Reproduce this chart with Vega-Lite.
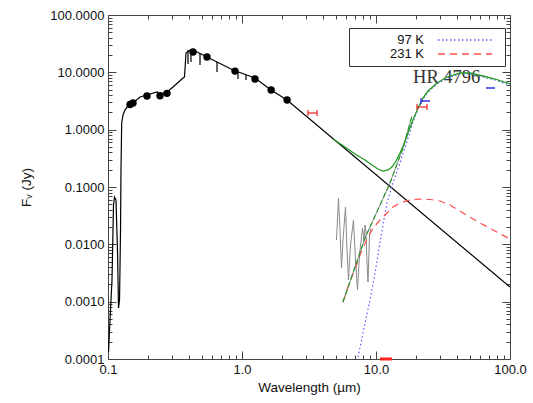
{
  "$schema": "https://vega.github.io/schema/vega-lite/v6.json",
  "width": 402,
  "height": 344,
  "autosize": {"type": "none"},
  "padding": {"left": 108, "top": 15, "right": 23, "bottom": 44},
  "background": "white",
  "config": {
    "font": "Liberation Sans",
    "view": {"stroke": "#444", "strokeWidth": 1},
    "axis": {"grid": false, "domain": false, "tickColor": "#444", "labelColor": "#111", "titleColor": "#111", "titleFontWeight": "normal", "labelFlush": false}
  },
  "datasets": {
    "phot": [
      {"lam": 0.1009, "F": 0.000132}, {"lam": 0.1035, "F": 0.000479}, {"lam": 0.1071, "F": 0.00239},
      {"lam": 0.1099, "F": 0.0485}, {"lam": 0.1118, "F": 0.0669}, {"lam": 0.1147, "F": 0.0593},
      {"lam": 0.1177, "F": 0.00796}, {"lam": 0.1198, "F": 0.000775}, {"lam": 0.1219, "F": 0.00107},
      {"lam": 0.1240, "F": 0.0178}, {"lam": 0.1250, "F": 0.198}, {"lam": 0.1265, "F": 1.306},
      {"lam": 0.1294, "F": 1.80}, {"lam": 0.1339, "F": 2.20}, {"lam": 0.1459, "F": 2.92},
      {"lam": 0.1537, "F": 2.92}, {"lam": 0.1733, "F": 3.71}, {"lam": 0.1954, "F": 4.02},
      {"lam": 0.2321, "F": 4.54}, {"lam": 0.2444, "F": 4.19}, {"lam": 0.2756, "F": 4.54},
      {"lam": 0.3055, "F": 5.55}, {"lam": 0.3629, "F": 7.96}, {"lam": 0.3723, "F": 8.29},
      {"lam": 0.3820, "F": 21.7}, {"lam": 0.4092, "F": 24.5}, {"lam": 0.4461, "F": 23.5},
      {"lam": 0.5481, "F": 18.5}, {"lam": 0.8567, "F": 10.98}, {"lam": 1.250, "F": 7.96},
      {"lam": 1.646, "F": 4.92}, {"lam": 2.167, "F": 3.29}, {"lam": 100, "F": 0.0018}
    ],
    "dips": [
      {"lam": 0.3954, "F": 24.5, "F2": 13.96}, {"lam": 0.4163, "F": 24.3, "F2": 15.1},
      {"lam": 0.4860, "F": 21.7, "F2": 13.4}, {"lam": 0.6508, "F": 15.1, "F2": 10.1},
      {"lam": 0.9335, "F": 10.1, "F2": 7.66}, {"lam": 1.071, "F": 8.99, "F2": 7.35}
    ],
    "dots": [
      {"lam": 0.146, "F": 2.75}, {"lam": 0.1537, "F": 2.92}, {"lam": 0.1954, "F": 3.87},
      {"lam": 0.2444, "F": 3.9}, {"lam": 0.2756, "F": 4.3}, {"lam": 0.4309, "F": 22.6},
      {"lam": 0.548, "F": 18.5}, {"lam": 0.887, "F": 10.5}, {"lam": 1.25, "F": 7.66},
      {"lam": 1.65, "F": 4.92}, {"lam": 2.17, "F": 3.29}
    ],
    "irs": [
      {"lam": 5.072, "F": 0.01189}, {"lam": 5.249, "F": 0.0643}, {"lam": 5.386, "F": 0.01777},
      {"lam": 5.527, "F": 0.00386}, {"lam": 5.671, "F": 0.01189}, {"lam": 5.921, "F": 0.0448},
      {"lam": 6.076, "F": 0.00796}, {"lam": 6.234, "F": 0.002385}, {"lam": 6.452, "F": 0.00973},
      {"lam": 6.793, "F": 0.02655}, {"lam": 7.031, "F": 0.00533}, {"lam": 7.277, "F": 0.0016},
      {"lam": 7.532, "F": 0.00651}, {"lam": 7.931, "F": 0.01926}, {"lam": 8.136, "F": 0.01189},
      {"lam": 8.279, "F": 0.02173}, {"lam": 8.422, "F": 0.0164}, {"lam": 8.567, "F": 0.00491},
      {"lam": 8.717, "F": 0.0022}, {"lam": 8.944, "F": 0.01454}, {"lam": 9.178, "F": 0.01926}
    ],
    "dust": [
      {"model": "97 K", "lam": 7.34, "F": 0.000108}, {"model": "97 K", "lam": 8.00, "F": 0.000284},
      {"model": "97 K", "lam": 9.02, "F": 0.001068}, {"model": "97 K", "lam": 9.83, "F": 0.00316},
      {"model": "97 K", "lam": 11.09, "F": 0.01777}, {"model": "97 K", "lam": 12.08, "F": 0.0526},
      {"model": "97 K", "lam": 13.16, "F": 0.104}, {"model": "97 K", "lam": 15.11, "F": 0.262},
      {"model": "97 K", "lam": 17.33, "F": 0.715}, {"model": "97 K", "lam": 18.89, "F": 1.36},
      {"model": "97 K", "lam": 20.58, "F": 2.29}, {"model": "97 K", "lam": 22.43, "F": 3.43},
      {"model": "97 K", "lam": 24.44, "F": 4.54}, {"model": "97 K", "lam": 28.53, "F": 6.26},
      {"model": "97 K", "lam": 33.88, "F": 7.96}, {"model": "97 K", "lam": 42.36, "F": 9.35},
      {"model": "97 K", "lam": 50.28, "F": 9.35}, {"model": "97 K", "lam": 62.88, "F": 8.29},
      {"model": "97 K", "lam": 77.29, "F": 7.35}, {"model": "97 K", "lam": 100, "F": 6.01},
      {"model": "231 K", "lam": 5.671, "F": 0.000986}, {"model": "231 K", "lam": 6.18, "F": 0.0018},
      {"model": "231 K", "lam": 6.970, "F": 0.00371}, {"model": "231 K", "lam": 7.862, "F": 0.00796},
      {"model": "231 K", "lam": 8.717, "F": 0.0134}, {"model": "231 K", "lam": 9.663, "F": 0.02005},
      {"model": "231 K", "lam": 10.71, "F": 0.02655}, {"model": "231 K", "lam": 11.87, "F": 0.0338},
      {"model": "231 K", "lam": 13.39, "F": 0.0448}, {"model": "231 K", "lam": 15.11, "F": 0.0526},
      {"model": "231 K", "lam": 17.94, "F": 0.0593}, {"model": "231 K", "lam": 21.30, "F": 0.0617},
      {"model": "231 K", "lam": 25.29, "F": 0.0605}, {"model": "231 K", "lam": 30.03, "F": 0.057},
      {"model": "231 K", "lam": 35.66, "F": 0.0485}, {"model": "231 K", "lam": 44.61, "F": 0.0352},
      {"model": "231 K", "lam": 59.72, "F": 0.0235}, {"model": "231 K", "lam": 74.67, "F": 0.0178},
      {"model": "231 K", "lam": 100, "F": 0.01238}
    ],
    "pl": [
      {"lam": 5.671, "F": 0.000986}, {"lam": 8.279, "F": 0.01289}, {"lam": 12.72, "F": 0.1174},
      {"lam": 15.90, "F": 0.479}, {"lam": 18.56, "F": 1.73}
    ],
    "total": [
      {"lam": 4.776, "F": 0.687}, {"lam": 5.870, "F": 0.498}, {"lam": 6.970, "F": 0.376},
      {"lam": 8.279, "F": 0.2956}, {"lam": 9.335, "F": 0.2418}, {"lam": 10.35, "F": 0.206},
      {"lam": 11.28, "F": 0.19}, {"lam": 12.29, "F": 0.198}, {"lam": 13.16, "F": 0.2233},
      {"lam": 14.10, "F": 0.284}, {"lam": 15.11, "F": 0.3916}, {"lam": 16.18, "F": 0.562},
      {"lam": 17.33, "F": 0.874}, {"lam": 18.89, "F": 1.474}, {"lam": 20.58, "F": 2.387},
      {"lam": 22.43, "F": 3.566}, {"lam": 24.44, "F": 4.725}, {"lam": 28.53, "F": 6.513},
      {"lam": 33.88, "F": 8.29}, {"lam": 42.36, "F": 9.73}, {"lam": 50.28, "F": 9.73},
      {"lam": 62.88, "F": 8.63}, {"lam": 77.29, "F": 7.65}, {"lam": 100, "F": 6.26}
    ],
    "bars": [
      {"set": "A", "lam": 3.109, "lam2": 3.628, "F": 1.953, "Flo": 1.73, "Fhi": 2.20},
      {"set": "A", "lam": 20.23, "lam2": 24.03, "F": 2.48, "Flo": 2.20, "Fhi": 2.80},
      {"set": "B", "lam": 21.67, "lam2": 25.29, "F": 3.16, "Flo": 2.80, "Fhi": 3.566},
      {"set": "B", "lam": 66.2, "lam2": 77.3, "F": 5.33},
      {"set": "C", "lam": 10.7, "lam2": 13.16, "F": 0.0001}
    ]
  },
  "layer": [
    {
      "data": {"values": [{"lam": 1, "F": 1}]},
      "mark": {"type": "point", "opacity": 0},
      "encoding": {
        "x": {"field": "lam", "type": "quantitative",
          "scale": {"type": "log", "domain": [0.1, 100], "nice": false},
          "axis": {"orient": "top", "labels": false, "title": null,
            "values": [0.1,0.2,0.3,0.4,0.5,0.6,0.7,0.8,0.9,1,2,3,4,5,6,7,8,9,10,20,30,40,50,60,70,80,90,100],
            "tickSize": {"condition": {"test": "abs(log(datum.value)/LN10 - round(log(datum.value)/LN10)) < 0.000001", "value": -8}, "value": -4}}},
        "y": {"field": "F", "type": "quantitative",
          "scale": {"type": "log", "domain": [0.0001, 100], "nice": false},
          "axis": {"orient": "right", "labels": false, "title": null,
            "values": [0.0001,0.0002,0.0003,0.0004,0.0005,0.0006,0.0007,0.0008,0.0009,0.001,0.002,0.003,0.004,0.005,0.006,0.007,0.008,0.009,0.01,0.02,0.03,0.04,0.05,0.06,0.07,0.08,0.09,0.1,0.2,0.3,0.4,0.5,0.6,0.7,0.8,0.9,1,2,3,4,5,6,7,8,9,10,20,30,40,50,60,70,80,90,100],
            "tickSize": {"condition": {"test": "abs(log(datum.value)/LN10 - round(log(datum.value)/LN10)) < 0.000001", "value": -8}, "value": -4}}}
      }
    },
    {
      "data": {"values": [{"name": "HR 4796"}]},
      "mark": {"type": "text", "font": "Liberation Serif", "fontSize": 18.5, "color": "#333", "align": "left", "baseline": "alphabetic"},
      "encoding": {
        "x": {"datum": 18.9, "type": "quantitative", "scale": {"type": "log", "domain": [0.1, 100], "nice": false}, "axis": null},
        "y": {"datum": 6.5, "type": "quantitative", "scale": {"type": "log", "domain": [0.0001, 100], "nice": false}, "axis": null},
        "text": {"field": "name"}
      }
    },
    {
      "encoding": {
        "x": {"field": "lam", "type": "quantitative",
          "scale": {"type": "log", "domain": [0.1, 100], "nice": false},
          "axis": {"orient": "bottom", "title": "Wavelength (µm)", "titleFontSize": 13.5, "titlePadding": 4,
            "labelFontSize": 13, "labelPadding": 12,
            "values": [0.1,0.2,0.3,0.4,0.5,0.6,0.7,0.8,0.9,1,2,3,4,5,6,7,8,9,10,20,30,40,50,60,70,80,90,100],
            "labelExpr": "abs(log(datum.value)/LN10 - round(log(datum.value)/LN10)) < 0.000001 ? format(datum.value, '.1f') : ''",
            "tickSize": {"condition": {"test": "abs(log(datum.value)/LN10 - round(log(datum.value)/LN10)) < 0.000001", "value": -8}, "value": -4}}},
        "y": {"field": "F", "type": "quantitative",
          "scale": {"type": "log", "domain": [0.0001, 100], "nice": false},
          "axis": {"orient": "left", "title": "F\u1d65 (Jy)", "titleFontSize": 13.5, "titlePadding": 16,
            "labelFontSize": 13, "labelPadding": 12,
            "values": [0.0001,0.0002,0.0003,0.0004,0.0005,0.0006,0.0007,0.0008,0.0009,0.001,0.002,0.003,0.004,0.005,0.006,0.007,0.008,0.009,0.01,0.02,0.03,0.04,0.05,0.06,0.07,0.08,0.09,0.1,0.2,0.3,0.4,0.5,0.6,0.7,0.8,0.9,1,2,3,4,5,6,7,8,9,10,20,30,40,50,60,70,80,90,100],
            "labelExpr": "abs(log(datum.value)/LN10 - round(log(datum.value)/LN10)) < 0.000001 ? format(datum.value, '.4f') : ''",
            "tickSize": {"condition": {"test": "abs(log(datum.value)/LN10 - round(log(datum.value)/LN10)) < 0.000001", "value": -8}, "value": -4}}}
      },
      "layer": [
        {"data": {"name": "irs"}, "mark": {"type": "line", "color": "#8a8a8a", "strokeWidth": 1}},
        {"data": {"name": "phot"}, "mark": {"type": "line", "color": "#000", "strokeWidth": 1.2}},
        {"data": {"name": "dips"}, "mark": {"type": "rule", "color": "#000", "strokeWidth": 1.2}, "encoding": {"y2": {"field": "F2"}}},
        {"data": {"name": "dots"}, "mark": {"type": "point", "filled": true, "color": "#000", "size": 55, "opacity": 1}},
        {"data": {"name": "dust"}, "mark": {"type": "line", "strokeWidth": 1.2},
          "encoding": {
            "color": {"field": "model", "type": "nominal",
              "scale": {"domain": ["97 K", "231 K"], "range": ["#5a5aff", "#ff4d4d"]},
              "legend": {"title": null, "orient": "none", "legendX": 241, "legendY": 13, "symbolType": "M-4.5,0H4.5M5.33,0H5.33", "symbolSize": 144, "symbolOffset": 104, "symbolStrokeWidth": 1.3, "labelAlign": "right", "labelOffset": -48, "labelFontSize": 13, "labelColor": "#111", "strokeColor": "#333", "fillColor": "white", "padding": 5, "rowPadding": 0, "labelExpr": "'          ' + datum.label"}},
            "strokeDash": {"field": "model", "type": "nominal",
              "scale": {"domain": ["97 K", "231 K"], "range": [[1.5, 2.5], [7, 5]]},
              "legend": {"title": null, "orient": "none", "legendX": 241, "legendY": 13, "symbolType": "M-4.5,0H4.5M5.33,0H5.33", "symbolSize": 144, "symbolOffset": 104, "symbolStrokeWidth": 1.3, "labelAlign": "right", "labelOffset": -48, "labelFontSize": 13, "labelColor": "#111", "strokeColor": "#333", "fillColor": "white", "padding": 5, "rowPadding": 0, "labelExpr": "'          ' + datum.label"}}
          }},
        {"data": {"name": "pl"}, "mark": {"type": "line", "color": "#777", "strokeWidth": 0.8}},
        {"data": {"name": "pl"}, "mark": {"type": "line", "color": "#2a962a", "strokeWidth": 1.2, "strokeDash": [5, 3]}},
        {"data": {"name": "total"}, "mark": {"type": "line", "color": "#229a22", "strokeWidth": 1.3}},
        {"data": {"name": "bars"}, "transform": [{"filter": "datum.set == 'A'"}], "mark": {"type": "rule", "color": "#e82020", "strokeWidth": 1.2}, "encoding": {"x2": {"field": "lam2"}}},
        {"data": {"name": "bars"}, "transform": [{"filter": "datum.set == 'A'"}], "mark": {"type": "rule", "color": "#e82020", "strokeWidth": 1.2}, "encoding": {"y": {"field": "Flo"}, "y2": {"field": "Fhi"}}},
        {"data": {"name": "bars"}, "transform": [{"filter": "datum.set == 'A'"}], "mark": {"type": "rule", "color": "#e82020", "strokeWidth": 1.2}, "encoding": {"x": {"field": "lam2"}, "y": {"field": "Flo"}, "y2": {"field": "Fhi"}}},
        {"data": {"name": "bars"}, "transform": [{"filter": "datum.set == 'B'"}], "mark": {"type": "rule", "color": "#2020dd", "strokeWidth": 1.4}, "encoding": {"x2": {"field": "lam2"}}},
        {"data": {"name": "bars"}, "transform": [{"filter": "datum.set == 'B' && datum.Flo != null"}], "mark": {"type": "rule", "color": "#2020dd", "strokeWidth": 1.2}, "encoding": {"y": {"field": "Flo"}, "y2": {"field": "Fhi"}}},
        {"data": {"name": "bars"}, "transform": [{"filter": "datum.set == 'C'"}], "mark": {"type": "rule", "color": "#ff2020", "strokeWidth": 3}, "encoding": {"x2": {"field": "lam2"}}}
      ]
    }
  ],
  "resolve": {"axis": {"x": "independent", "y": "independent"}}
}
